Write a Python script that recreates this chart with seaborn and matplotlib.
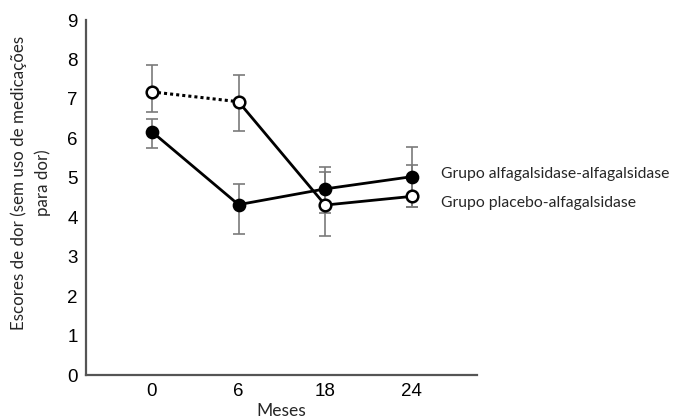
import seaborn as sns
import matplotlib.pyplot as plt
import numpy as np

# months (x categories)
months = ['0', '6', '18', '24']

# alfagalsidase-alfagalsidase group (filled circles)
alfa_mean = [6.17, 4.32, 4.72, 5.03]
alfa_low = [5.75, 3.58, 4.12, 4.27]
alfa_high = [6.50, 4.85, 5.28, 5.79]

# placebo-alfagalsidase group (open circles)
plac_mean = [7.18, 6.93, 4.31, 4.53]
plac_low = [6.67, 6.19, 3.53, 4.27]
plac_high = [7.87, 7.60, 5.15, 5.33]

labels = ['Grupo alfagalsidase-alfagalsidase', 'Grupo placebo-alfagalsidase']
ylabel_lines = ['Escores de dor (sem uso de medicações', 'para dor)']

sns.set_style('white')
plt.rcParams['font.family'] = ['Liberation Sans', 'DejaVu Sans']

fig = plt.figure(figsize=(6.74, 4.19), dpi=100)
ax = fig.add_axes([0.1276, 0.105, 0.58, 0.847])

pos = np.arange(len(months))
a_m = np.array(alfa_mean)
p_m = np.array(plac_mean)

# error bars
ax.errorbar(pos, a_m, yerr=[a_m - np.array(alfa_low), np.array(alfa_high) - a_m],
            fmt='none', ecolor='#7a7a7a', elinewidth=1.2, capsize=4, capthick=1.2, zorder=1)
ax.errorbar(pos, p_m, yerr=[p_m - np.array(plac_low), np.array(plac_high) - p_m],
            fmt='none', ecolor='#7a7a7a', elinewidth=1.2, capsize=4, capthick=1.2, zorder=1)

# lines
sns.lineplot(x=pos, y=alfa_mean, ax=ax, color='black', lw=2, zorder=2)
sns.lineplot(x=pos[:2], y=plac_mean[:2], ax=ax, color='black', lw=2.2, linestyle=(0, (1, 1)), zorder=2)
sns.lineplot(x=pos[1:], y=plac_mean[1:], ax=ax, color='black', lw=2, zorder=2)

# markers
sns.scatterplot(x=pos, y=alfa_mean, ax=ax, color='black', edgecolor='black', s=70,
                linewidth=1.5, zorder=3)
sns.scatterplot(x=pos, y=plac_mean, ax=ax, color='white', edgecolor='black', s=70,
                linewidth=1.8, zorder=3)

ax.set_xlim(-0.76, 3.75)
ax.set_ylim(0, 9)
ax.set_xticks(pos)
ax.set_xticklabels(months)
ax.set_yticks(range(10))

for side in ['top', 'right']:
    ax.spines[side].set_visible(False)
for side in ['left', 'bottom']:
    ax.spines[side].set_color('#555555')
    ax.spines[side].set_linewidth(1.6)

ax.tick_params(axis='both', direction='in', length=6, width=1.2, color='#555555',
               labelsize=13.5, labelcolor='black')
ax.tick_params(axis='y', pad=6)
ax.tick_params(axis='x', pad=6)

ax.set_xlabel('Meses', fontsize=12.5, family=['Lato', 'DejaVu Sans'], labelpad=2)
ax.set_ylabel('')
fig.text(0.028, 0.563, ylabel_lines[0], fontsize=12.2, family=['Lato', 'DejaVu Sans'],
         rotation=90, ha='center', va='center')
fig.text(0.063, 0.563, ylabel_lines[1], fontsize=12.2, family=['Lato', 'DejaVu Sans'],
         rotation=90, ha='center', va='center')

ax.text(3.33, 5.1, labels[0], fontsize=11.3, family=['Lato', 'DejaVu Sans'],
        va='center', ha='left', clip_on=False)
ax.text(3.33, 4.35, labels[1], fontsize=11.3, family=['Lato', 'DejaVu Sans'],
        va='center', ha='left', clip_on=False)

fig.savefig('out.png', dpi=100)
